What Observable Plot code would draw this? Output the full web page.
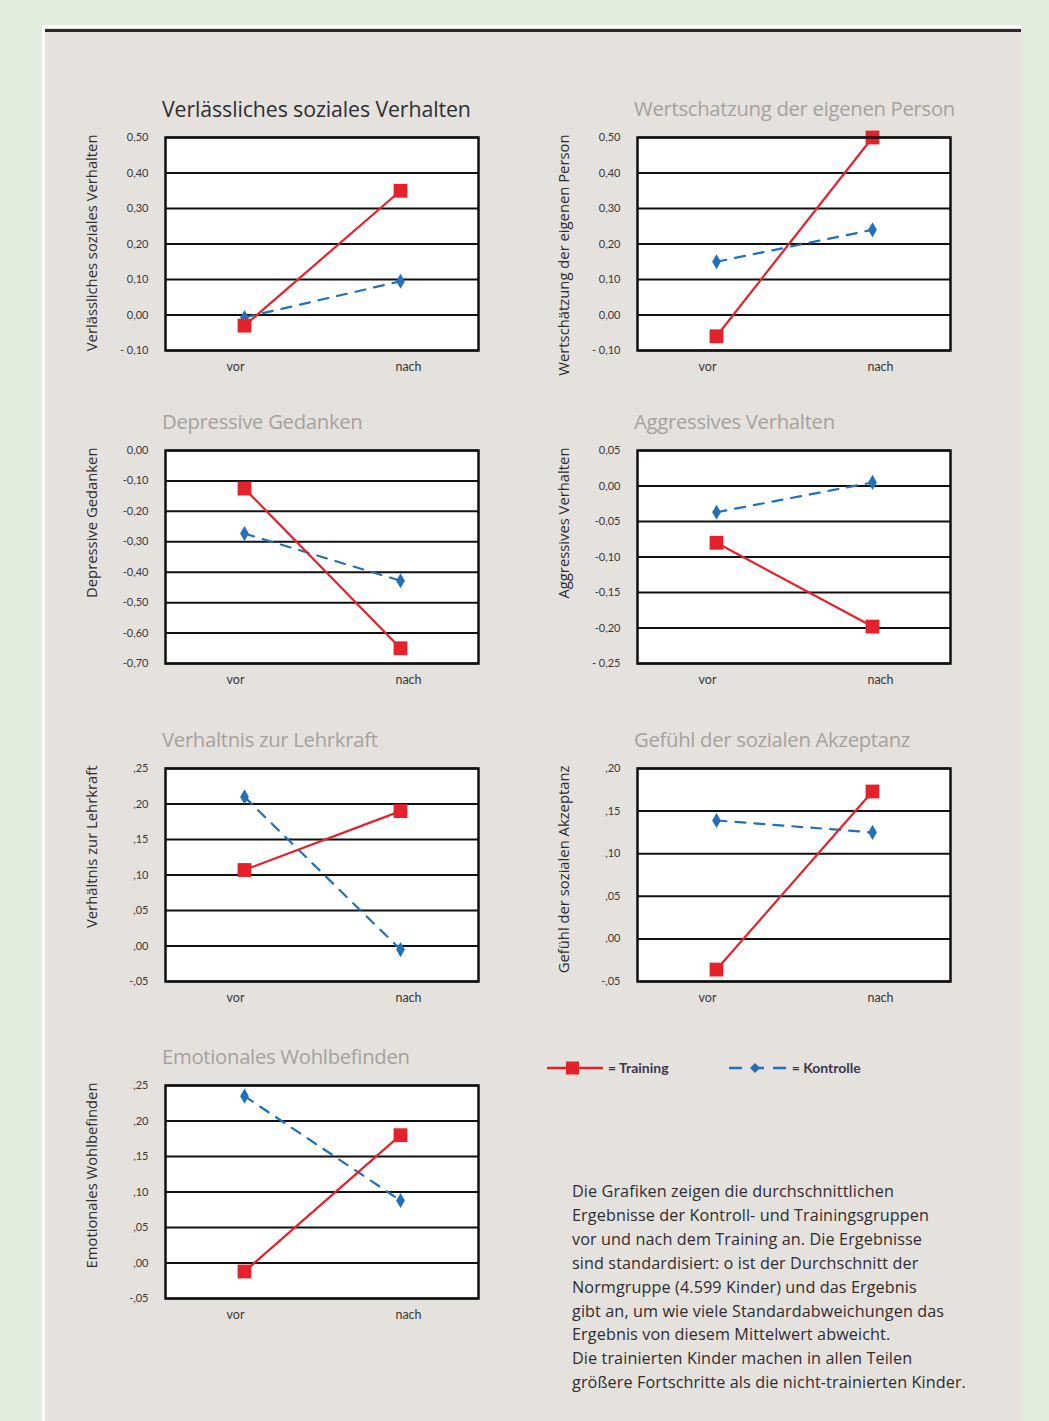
<!DOCTYPE html>
<html>
<head>
<meta charset="utf-8">
<script src="https://cdn.jsdelivr.net/npm/d3@7"></script>
<script src="https://cdn.jsdelivr.net/npm/@observablehq/plot@0.6"></script>
<style>
  html, body { margin: 0; padding: 0; }
  body { width: 1049px; height: 1421px; background: #e0ecdc; position: relative; overflow: hidden; font-family: "Open Sans", Lato, sans-serif; }
  #sheet { position: absolute; left: 42px; top: 25px; width: 979px; height: 1400px; background: #e5e2de; border-left: 3px solid #fafafa; border-top: 3px solid #fafafa; box-sizing: border-box; }
  #rule { position: absolute; left: 45px; top: 29px; width: 976px; height: 3px; background: #2a2a2a; }
  .panel { position: absolute; }
  .title { position: absolute; font-size: 20.3px; white-space: nowrap; color: #a6a19d; letter-spacing: -0.3px; }
  .title.dark { color: #2e2e33; font-size: 21.3px; letter-spacing: -0.1px; }
  #legend { position: absolute; left: 545px; top: 1059px; font-size: 14px; font-weight: bold; color: #3b3550; white-space: nowrap; font-family: Lato, sans-serif; }
  #legend span.item { display: inline-flex; align-items: center; margin-right: 58px; }
  #legend svg { margin-right: 3px; }
  #caption { position: absolute; left: 572px; top: 1180px; font-size: 16.2px; line-height: 23.9px; color: #2f2c30; white-space: nowrap; letter-spacing: 0.1px; }
</style>
</head>
<body>
<div id="sheet"></div>
<div id="rule"></div>
<div id="charts"></div>
<div id="legend"></div>
<div id="caption"></div>
<script>
// ---- data ----
const phases = ["vor", "nach"];
const titles = [
  "Verlässliches soziales Verhalten",
  "Wertschatzung der eigenen Person",
  "Depressive Gedanken",
  "Aggressives Verhalten",
  "Verhaltnis zur Lehrkraft",
  "Gefühl der sozialen Akzeptanz",
  "Emotionales Wohlbefinden"
];
const yLabels = [
  "Verlässliches soziales Verhalten",
  "Wertschätzung der eigenen Person",
  "Depressive Gedanken",
  "Aggressives Verhalten",
  "Verhältnis zur Lehrkraft",
  "Gefühl der sozialen Akzeptanz",
  "Emotionales Wohlbefinden"
];
const training = [
  [-0.03, 0.35],
  [-0.06, 0.50],
  [-0.125, -0.65],
  [-0.08, -0.198],
  [0.107, 0.19],
  [-0.036, 0.173],
  [-0.012, 0.18]
];
const kontrolle = [
  [-0.007, 0.095],
  [0.15, 0.24],
  [-0.273, -0.428],
  [-0.037, 0.005],
  [0.21, -0.005],
  [0.139, 0.125],
  [0.235, 0.088]
];
const yDomains = [
  [-0.10, 0.50],
  [-0.10, 0.50],
  [-0.70, 0.00],
  [-0.25, 0.05],
  [-0.05, 0.25],
  [-0.05, 0.20],
  [-0.05, 0.25]
];
const tickValues = [
  [0.50, 0.40, 0.30, 0.20, 0.10, 0.00, -0.10],
  [0.50, 0.40, 0.30, 0.20, 0.10, 0.00, -0.10],
  [0.00, -0.10, -0.20, -0.30, -0.40, -0.50, -0.60, -0.70],
  [0.05, 0.00, -0.05, -0.10, -0.15, -0.20, -0.25],
  [0.25, 0.20, 0.15, 0.10, 0.05, 0.00, -0.05],
  [0.20, 0.15, 0.10, 0.05, 0.00, -0.05],
  [0.25, 0.20, 0.15, 0.10, 0.05, 0.00, -0.05]
];
const tickLabels = [
  ["0,50", "0,40", "0,30", "0,20", "0,10", "0,00", "- 0,10"],
  ["0,50", "0,40", "0,30", "0,20", "0,10", "0,00", "- 0,10"],
  ["0,00", "-0,10", "-0,20", "-0,30", "-0,40", "-0,50", "-0,60", "-0,70"],
  ["0,05", "0,00", "-0,05", "-0,10", "-0,15", "-0,20", "- 0,25"],
  [",25", ",20", ",15", ",10", ",05", ",00", "-,05"],
  [",20", ",15", ",10", ",05", ",00", "-,05"],
  [",25", ",20", ",15", ",10", ",05", ",00", "-,05"]
];
const groupNames = ["Training", "Kontrolle"];
const captionLines = [
  "Die Grafiken zeigen die durchschnittlichen",
  "Ergebnisse der Kontroll- und Trainingsgruppen",
  "vor und nach dem Training an. Die Ergebnisse",
  "sind standardisiert: o ist der Durchschnitt der",
  "Normgruppe (4.599 Kinder) und das Ergebnis",
  "gibt an, um wie viele Standardabweichungen das",
  "Ergebnis von diesem Mittelwert abweicht.",
  "Die trainierten Kinder machen in allen Teilen",
  "größere Fortschritte als die nicht-trainierten Kinder."
];

// ---- layout / style ----
const RED = "#e4222b";
const BLUE = "#2170b8";
const colLeft = [70, 542];
const rowTop = [127, 440, 758, 1075];
const ML = 95, MR = 12, MT = 10, MB = 36;
const FW = 313, FH = 213;
const FONT = "Lato, 'Open Sans', sans-serif";

const charts = document.getElementById("charts");

titles.forEach((title, i) => {
  const col = i % 2, row = Math.floor(i / 2);
  const left = colLeft[col], top = rowTop[row];

  const tr = phases.map((p, j) => ({phase: p, value: training[i][j]}));
  const ko = phases.map((p, j) => ({phase: p, value: kontrolle[i][j]}));
  const ticks = tickValues[i];
  const labels = tickLabels[i];

  const chart = Plot.plot({
    width: ML + FW + MR,
    height: MT + FH + MB,
    marginLeft: ML, marginRight: MR, marginTop: MT, marginBottom: MB,
    style: {background: "transparent", fontFamily: FONT, color: "#3a3636", overflow: "visible"},
    x: {type: "point", domain: phases, padding: 0.5, axis: null},
    y: {domain: yDomains[i], axis: null},
    marks: [
      Plot.frame({fill: "white", stroke: "none"}),
      Plot.ruleY(ticks, {stroke: "#111", strokeWidth: 2}),
      Plot.axisX([phases[0]], {tickSize: 0, tickPadding: 12, fontSize: 12.5, label: null, dx: -9}),
      Plot.axisX([phases[1]], {tickSize: 0, tickPadding: 12, fontSize: 12.5, label: null, dx: 8}),
      Plot.axisY({ticks: ticks, tickFormat: (d) => labels[ticks.indexOf(d)], tickSize: 0, tickPadding: 17, fontSize: 11, label: null}),
      Plot.text([yLabels[i]], {text: d => d, frameAnchor: "top-left", textAnchor: "end", lineAnchor: "middle", rotate: -90, dx: -73, dy: -3, fontSize: 14.8, fill: "#2e2b2e", fontFamily: "'Open Sans', sans-serif"}),
      Plot.line(ko, {x: "phase", y: "value", stroke: BLUE, strokeWidth: 2.2, strokeDasharray: "10,9"}),
      Plot.dot(ko, {x: "phase", y: "value", symbol: "diamond", r: 4.6, fill: BLUE}),
      Plot.line(tr, {x: "phase", y: "value", stroke: RED, strokeWidth: 2.2}),
      Plot.dot(tr, {x: "phase", y: "value", symbol: "square", r: 7.8, fill: RED}),
      Plot.frame({stroke: "#111", strokeWidth: 2.5})
    ]
  });

  const wrap = document.createElement("div");
  wrap.className = "panel";
  wrap.style.left = left + "px";
  wrap.style.top = top + "px";
  wrap.appendChild(chart);
  charts.appendChild(wrap);

  const t = document.createElement("div");
  t.className = "title" + (i === 0 ? " dark" : "");
  t.textContent = title;
  t.style.left = (left + ML - 3) + "px";
  t.style.top = (top - 33) + "px";
  charts.appendChild(t);
});

// legend
const legend = document.getElementById("legend");
legend.innerHTML =
  `<span class="item"><svg width="60" height="16"><line x1="2" x2="58" y1="8" y2="8" stroke="${RED}" stroke-width="2.4"/><rect x="21" y="1.5" width="13" height="13" fill="${RED}"/></svg>= ${groupNames[0]}</span>` +
  `<span class="item"><svg width="62" height="16"><line x1="2" x2="60" y1="8" y2="8" stroke="${BLUE}" stroke-width="2.4" stroke-dasharray="13,9"/><path d="M28,3 L33,8 L28,13 L23,8 Z" fill="${BLUE}"/></svg>= ${groupNames[1]}</span>`;

// caption
document.getElementById("caption").innerHTML = captionLines.join("<br>");
</script>
</body>
</html>
